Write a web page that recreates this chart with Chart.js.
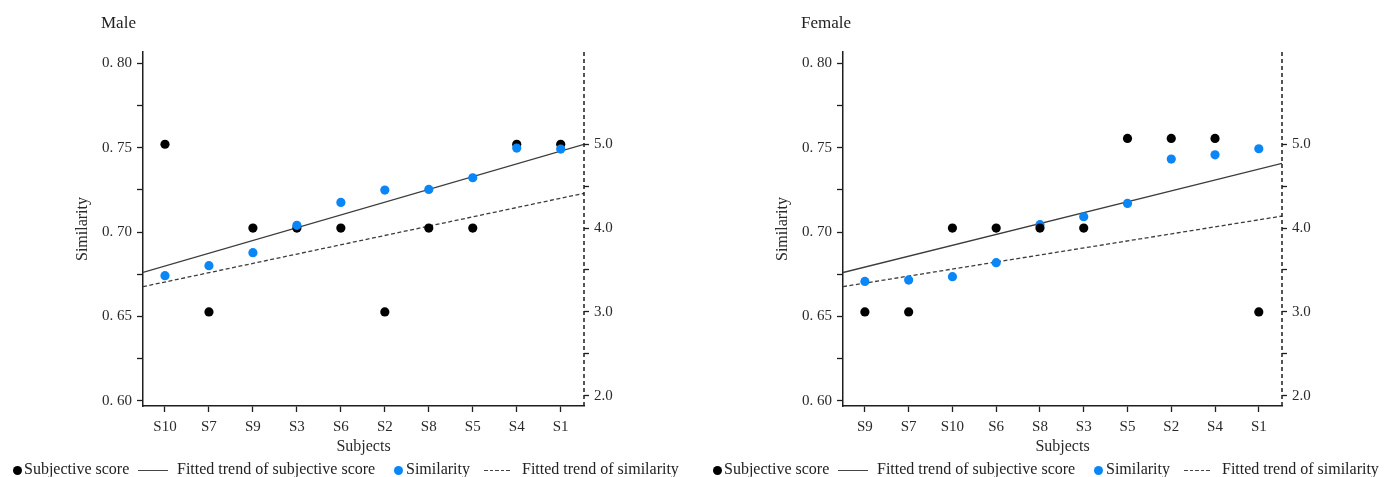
<!DOCTYPE html>
<html lang="en">
<head>
<meta charset="UTF-8">
<title>Similarity and subjective score by subject</title>
<script src="https://cdn.jsdelivr.net/npm/chart.js"></script>
<style>
  body { margin: 0; background: #fff; font-family: "Liberation Serif", serif; color: #222; }
  #wrap { position: relative; width: 1386px; height: 477px; overflow: hidden; }
  .panel { position: absolute; top: 0; width: 686px; height: 477px; }
  .panel canvas { position: absolute; left: 0; top: 0; }
  .ttl { position: absolute; left: 101px; top: 13px; font-size: 17px; line-height: 20px; }
  .lg { position: absolute; top: 460px; font-size: 16px; line-height: 18px; white-space: nowrap; }
  .dot { position: absolute; top: 465.5px; width: 9px; height: 9px; border-radius: 50%; }
  .ln { position: absolute; top: 469.5px; height: 1.4px; background: #444; }
  .ln.dash { background: repeating-linear-gradient(90deg, #444 0 3.5px, transparent 3.5px 5.6px); }
</style>
</head>
<body>
<div id="wrap">
  <div class="panel" id="pMale" style="left:0"><canvas id="male" width="686" height="477"></canvas></div>
  <div class="panel" id="pFemale" style="left:700px"><canvas id="female" width="686" height="477"></canvas></div>
</div>
<script>
  // data
  const panelTitles = ['Male', 'Female'];
  const seriesNames = ['Subjective score', 'Fitted trend of subjective score', 'Similarity', 'Fitted trend of similarity'];

  const maleSubjects = ['S10', 'S7', 'S9', 'S3', 'S6', 'S2', 'S8', 'S5', 'S4', 'S1'];
  const maleScore = [5, 3, 4, 4, 4, 3, 4, 4, 5, 5];
  const maleSimilarity = [0.6742, 0.6801, 0.6878, 0.7040, 0.7176, 0.7249, 0.7253, 0.7322, 0.7498, 0.7492];
  const maleScoreTrend = [3.47, 5.0];        // at the two ends of the x axis
  const maleSimilarityTrend = [0.6677, 0.7230];

  const femaleSubjects = ['S9', 'S7', 'S10', 'S6', 'S8', 'S3', 'S5', 'S2', 'S4', 'S1'];
  const femaleScore = [3, 3, 4, 4, 4, 4, 5.07, 5.07, 5.07, 3];
  const femaleSimilarity = [0.6708, 0.6716, 0.6736, 0.6819, 0.7044, 0.7091, 0.7170, 0.7433, 0.7458, 0.7494];
  const femaleScoreTrend = [3.47, 4.773];
  const femaleSimilarityTrend = [0.6677, 0.7095];

  const xRange = [0.5, 10.53];
  const similarityRange = [0.597, 0.8067];
  const scoreRange = [1.877, 6.101];
  const similarityTicks = [0.6, 0.625, 0.65, 0.675, 0.7, 0.725, 0.75, 0.775, 0.8];
  const scoreTicks = [2, 2.5, 3, 3.5, 4, 4.5, 5];

  const BLUE = '#0b86f6';
  const LINE = '#3c3c3c';
  const AX = '#1e1e1e';
  const TXT = '#2a2a2a';

  Chart.defaults.font.family = '"Liberation Serif", serif';
  Chart.defaults.color = TXT;

  // border.dash only dashes grid lines, so the right axis line is stroked here
  const dashedRightAxis = {
    id: 'dashedRightAxis',
    afterDraw(chart) {
      const s = chart.scales.yScore;
      const ctx = chart.ctx;
      ctx.save();
      ctx.strokeStyle = AX;
      ctx.lineWidth = 1.5;
      ctx.setLineDash([4, 3]);
      ctx.beginPath();
      ctx.moveTo(s.left, s.top);
      ctx.lineTo(s.left, s.bottom);
      ctx.stroke();
      ctx.restore();
    }
  };

  function makeChart(id, subjects, score, similarity, scoreTrend, simTrend, blueOnTop, rightW) {
    const pts = vals => vals.map((v, i) => ({ x: i + 1, y: v }));
    const ends = vals => vals.map((v, i) => ({ x: xRange[i], y: v }));
    return new Chart(document.getElementById(id), {
      type: 'scatter',
      data: {
        datasets: [
          { label: seriesNames[2], data: pts(similarity), yAxisID: 'ySim', backgroundColor: BLUE,
            pointRadius: 4.6, pointBorderWidth: 0, order: blueOnTop ? 0 : 1 },
          { label: seriesNames[0], data: pts(score), yAxisID: 'yScore', backgroundColor: '#000',
            pointRadius: 4.6, pointBorderWidth: 0, order: blueOnTop ? 1 : 0 },
          { label: seriesNames[1], type: 'line', data: ends(scoreTrend), yAxisID: 'yScore', showLine: true,
            borderColor: LINE, borderWidth: 1.3, pointRadius: 0, fill: false, order: 2 },
          { label: seriesNames[3], type: 'line', data: ends(simTrend), yAxisID: 'ySim', showLine: true,
            borderColor: LINE, borderWidth: 1.3, borderDash: [4, 2.5], pointRadius: 0, fill: false, order: 3 }
        ]
      },
      options: {
        responsive: false,
        animation: false,
        events: [],
        layout: { padding: { top: 52, bottom: 21, left: 0, right: 0 } },
        plugins: { legend: { display: false }, tooltip: { enabled: false } },
        scales: {
          x: {
            type: 'linear', position: 'bottom', min: xRange[0], max: xRange[1],
            afterBuildTicks: s => { s.ticks = subjects.map((_, i) => ({ value: i + 1 })); },
            afterFit: s => { s.height = 50; },
            ticks: { callback: v => subjects[v - 1], font: { size: 15 }, color: TXT, padding: 6, maxRotation: 0, autoSkip: false },
            grid: { drawOnChartArea: false, tickLength: 6, tickColor: AX, tickWidth: 1.3 },
            border: { color: AX, width: 1.5 },
            title: { display: true, text: 'Subjects', font: { size: 16 }, color: TXT, padding: 0 }
          },
          ySim: {
            position: 'left', min: similarityRange[0], max: similarityRange[1],
            afterBuildTicks: s => { s.ticks = similarityTicks.map(v => ({ value: v })); },
            afterFit: s => { s.width = 143; },
            ticks: {
              callback: v => Math.round(v * 1000) % 50 === 0 ? v.toFixed(2).replace('.', '. ') : '',
              font: { size: 15 }, color: TXT, padding: 5
            },
            grid: { drawOnChartArea: false, tickLength: 6, tickColor: AX, tickWidth: 1.3 },
            border: { color: AX, width: 1.5 },
            title: { display: true, text: 'Similarity', font: { size: 16 }, color: TXT, padding: { top: 73, bottom: 0 } }
          },
          yScore: {
            position: 'right', min: scoreRange[0], max: scoreRange[1],
            afterBuildTicks: s => { s.ticks = scoreTicks.map(v => ({ value: v })); },
            afterFit: s => { s.width = rightW; },
            ticks: { callback: v => Number.isInteger(v) ? v.toFixed(1) : '', font: { size: 15 }, color: TXT, padding: 5 },
            grid: { drawOnChartArea: false, tickLength: 5, tickColor: AX, tickWidth: 1.3 },
            border: { display: false }
          }
        }
      },
      plugins: [dashedRightAxis]
    });
  }

  // title and legend under each panel
  function addLabels(panelId, title) {
    const p = document.getElementById(panelId);
    const html = [
      `<div class="ttl">${title}</div>`,
      `<span class="dot" style="left:13px;background:#000"></span>`,
      `<span class="lg" style="left:24px">${seriesNames[0]}</span>`,
      `<span class="ln" style="left:138px;width:30px"></span>`,
      `<span class="lg" style="left:177px">${seriesNames[1]}</span>`,
      `<span class="dot" style="left:394px;background:${BLUE}"></span>`,
      `<span class="lg" style="left:406px">${seriesNames[2]}</span>`,
      `<span class="ln dash" style="left:484px;width:28px"></span>`,
      `<span class="lg" style="left:522px">${seriesNames[3]}</span>`
    ];
    p.insertAdjacentHTML('beforeend', html.join(''));
  }

  makeChart('male', maleSubjects, maleScore, maleSimilarity, maleScoreTrend, maleSimilarityTrend, true, 102);
  makeChart('female', femaleSubjects, femaleScore, femaleSimilarity, femaleScoreTrend, femaleSimilarityTrend, false, 104);
  addLabels('pMale', panelTitles[0]);
  addLabels('pFemale', panelTitles[1]);
</script>
</body>
</html>
